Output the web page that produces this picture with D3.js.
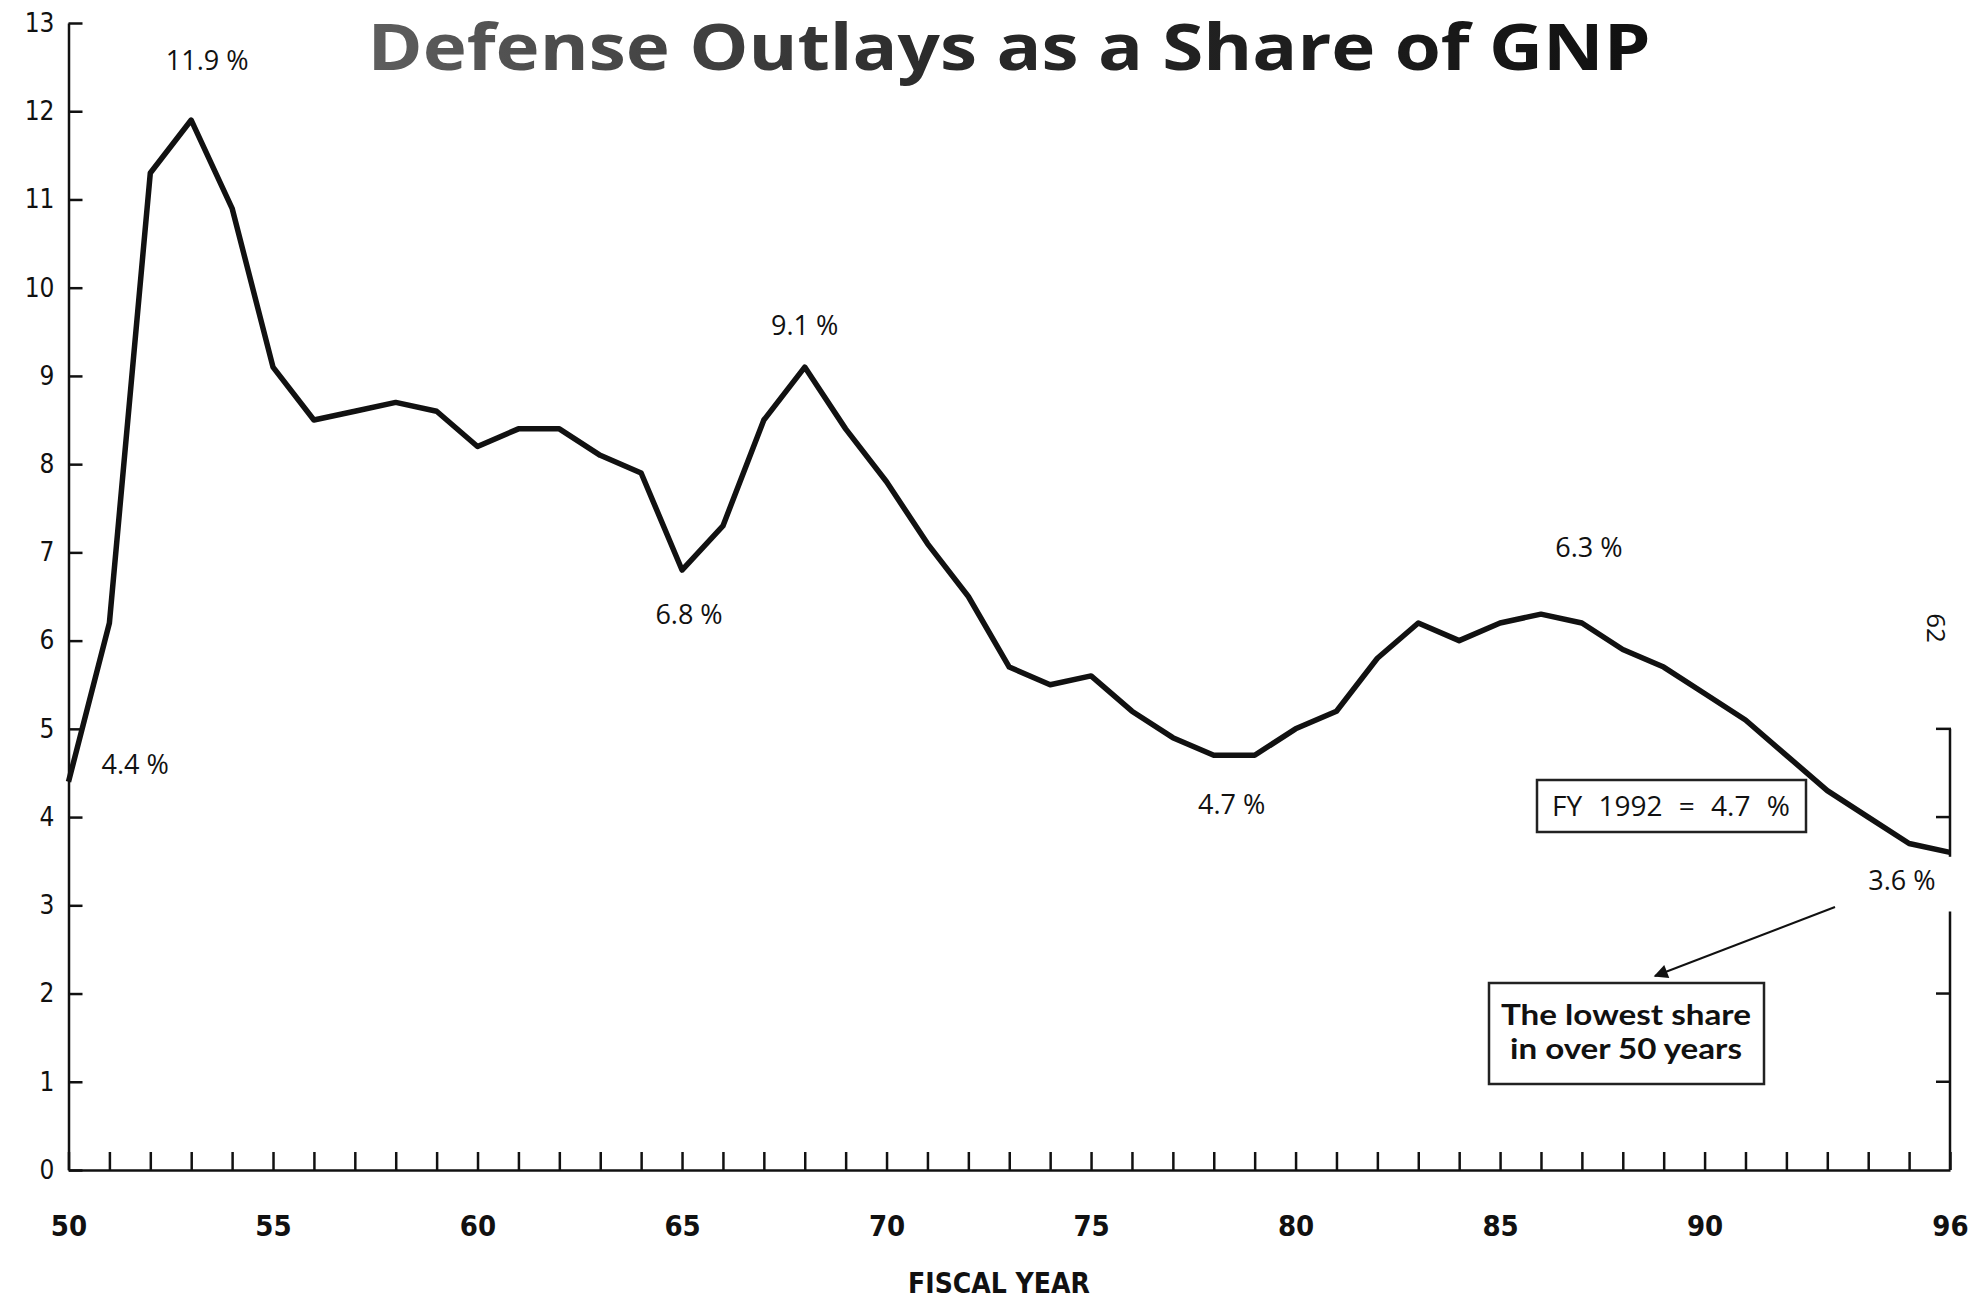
<!DOCTYPE html>
<html>
<head>
<meta charset="utf-8">
<script src="https://cdn.jsdelivr.net/npm/d3@7"></script>
<style>
  body { margin: 0; background: #fff; }
  svg { display: block; }
  .tick text { font-family: "Liberation Sans Narrow", "DejaVu Sans Condensed", sans-serif; fill: #111; }
</style>
</head>
<body>
<svg id="chart"></svg>
<script>
// fiscal years (two digit) and defense outlays as % of GNP
var years = [50,51,52,53,54,55,56,57,58,59,60,61,62,63,64,65,66,67,68,69,70,71,72,73,74,75,76,77,78,79,80,81,82,83,84,85,86,87,88,89,90,91,92,93,94,95,96]
var share = [4.4,6.2,11.3,11.9,10.9,9.1,8.5,8.6,8.7,8.6,8.2,8.4,8.4,8.1,7.9,6.8,7.3,8.5,9.1,8.4,7.8,7.1,6.5,5.7,5.5,5.6,5.2,4.9,4.7,4.7,5.0,5.2,5.8,6.2,6.0,6.2,6.3,6.2,5.9,5.7,5.4,5.1,4.7,4.3,4.0,3.7,3.6]
var xTickLabels = [50,55,60,65,70,75,80,85,90,96]
var yTicks = [0,1,2,3,4,5,6,7,8,9,10,11,12,13]
var rightTicks = [5,4,2,1]

// value callouts
var calloutYears = [53,50,68,65,78,86,96]
var calloutText = ["11.9 %","4.4 %","9.1 %","6.8 %","4.7 %","6.3 %","3.6 %"]

var width = 1988,
    height = 1300

var svg = d3.select("#chart")
    .attr("width", width)
    .attr("height", height)

var x = d3.scaleLinear().domain([50, 96]).range([68.5, 1950])
var y = d3.scaleLinear().domain([0, 13]).range([1170, 23])

// title with a gray to black fade, like the print
var grad = svg.append("defs").append("linearGradient")
    .attr("id", "titleFade")
    .attr("gradientUnits", "userSpaceOnUse")
    .attr("x1", 368).attr("x2", 1651).attr("y1", 0).attr("y2", 0)
grad.append("stop").attr("offset", "0%").attr("stop-color", "#5e5e5e")
grad.append("stop").attr("offset", "45%").attr("stop-color", "#2a2a2a")
grad.append("stop").attr("offset", "100%").attr("stop-color", "#111")

svg.append("text")
    .attr("x", 1009)
    .attr("y", 70)
    .attr("text-anchor", "middle")
    .attr("fill", "url(#titleFade)")
    .style("font-family", "'Open Sans', 'Noto Sans', sans-serif")
    .style("font-weight", "bold")
    .style("font-size", "65px")
    .attr("textLength", 1283)
    .attr("lengthAdjust", "spacingAndGlyphs")
    .text("Defense Outlays as a Share of GNP")

// y axis, ticks point into the plot
var yAxis = d3.axisLeft(y)
    .tickValues(yTicks)
    .tickSizeInner(-14)
    .tickSizeOuter(0)
    .tickPadding(14)
var gy = svg.append("g")
    .attr("transform", "translate(" + x(50) + ",0)")
    .call(yAxis)
gy.selectAll("path, line").attr("stroke", "#111").attr("stroke-width", 2.5)
gy.selectAll("text").style("font-size", "26px")

// x axis, one tick each year
var xAxis = d3.axisBottom(x)
    .tickValues(years)
    .tickSizeInner(-18)
    .tickSizeOuter(0)
    .tickPadding(45)
    .tickFormat(function(d){ return xTickLabels.indexOf(d) >= 0 ? d : "" })
var gx = svg.append("g")
    .attr("transform", "translate(0," + y(0) + ")")
    .call(xAxis)
gx.selectAll("path, line").attr("stroke", "#111").attr("stroke-width", 2.5)
gx.selectAll("text")
    .style("font-size", "29px")
    .style("font-weight", "bold")

// broken right hand axis
var rx = x(96)
var segs = [[5, 3.55], [2.93, 0]]
svg.selectAll(".rseg").data(segs).enter()
    .append("line")
    .attr("class", "rseg")
    .attr("x1", rx).attr("x2", rx)
    .attr("y1", function(d){ return y(d[0]) })
    .attr("y2", function(d){ return y(d[1]) })
    .attr("stroke", "#111")
    .attr("stroke-width", 2.5)
svg.selectAll(".rtick").data(rightTicks).enter()
    .append("line")
    .attr("class", "rtick")
    .attr("x1", rx - 14).attr("x2", rx + 1)
    .attr("y1", function(d){ return y(d) })
    .attr("y2", function(d){ return y(d) })
    .attr("stroke", "#111")
    .attr("stroke-width", 2.5)

// the series
var line = d3.line()
    .x(function(d, i){ return x(years[i]) })
    .y(function(d){ return y(d) })
svg.append("path")
    .datum(share)
    .attr("d", line)
    .attr("fill", "none")
    .attr("stroke", "#111")
    .attr("stroke-width", 5.5)
    .attr("stroke-linejoin", "round")

// callout offsets from their points
var offs = [[16,-50,"middle"],[33,-8,"start"],[0,-32,"middle"],[7,54,"middle"],[18,59,"middle"],[48,-57,"middle"],[-48,38,"middle"]]
svg.selectAll(".callout").data(calloutText).enter()
    .append("text")
    .attr("class", "callout")
    .attr("x", function(d, i){ return x(calloutYears[i]) + offs[i][0] })
    .attr("y", function(d, i){ return y(share[years.indexOf(calloutYears[i])]) + offs[i][1] })
    .attr("text-anchor", function(d, i){ return offs[i][2] })
    .style("font-family", "'Open Sans', 'Noto Sans', sans-serif")
    .style("font-size", "27px")
    .attr("fill", "#111")
    .text(function(d){ return d })

// FY 1992 box
svg.append("rect")
    .attr("x", 1537).attr("y", 780)
    .attr("width", 269).attr("height", 52)
    .attr("fill", "#fff")
    .attr("stroke", "#222")
    .attr("stroke-width", 2.5)
svg.append("text")
    .attr("x", 1671).attr("y", 816)
    .attr("text-anchor", "middle")
    .style("font-family", "'Open Sans', 'Noto Sans', sans-serif")
    .style("font-size", "28px")
    .style("word-spacing", "9px")
    .attr("fill", "#111")
    .text("FY 1992 = 4.7 %")

// lowest share note with arrow
svg.append("defs").append("marker")
    .attr("id", "head")
    .attr("viewBox", "0 0 10 10")
    .attr("refX", 9).attr("refY", 5)
    .attr("markerWidth", 9).attr("markerHeight", 7)
    .attr("orient", "auto")
    .append("path")
    .attr("d", "M0,0 L10,5 L0,10 z")
    .attr("fill", "#111")
svg.append("line")
    .attr("x1", 1835).attr("y1", 907)
    .attr("x2", 1655).attr("y2", 976)
    .attr("stroke", "#111")
    .attr("stroke-width", 2)
    .attr("marker-end", "url(#head)")
svg.append("rect")
    .attr("x", 1489).attr("y", 983)
    .attr("width", 275).attr("height", 101)
    .attr("fill", "#fff")
    .attr("stroke", "#222")
    .attr("stroke-width", 2.5)
var noteLen = [250, 232]
svg.selectAll(".note").data(["The lowest share", "in over 50 years"]).enter()
    .append("text")
    .attr("class", "note")
    .attr("x", 1626)
    .attr("y", function(d, i){ return 1025 + i * 34 })
    .attr("text-anchor", "middle")
    .attr("textLength", function(d, i){ return noteLen[i] })
    .attr("lengthAdjust", "spacingAndGlyphs")
    .style("font-family", "Lato, 'Open Sans', sans-serif")
    .style("font-weight", "bold")
    .style("font-size", "28px")
    .attr("fill", "#111")
    .text(function(d){ return d })

// axis title
svg.append("text")
    .attr("x", 999).attr("y", 1293)
    .attr("text-anchor", "middle")
    .style("font-family", "'Liberation Sans Narrow', 'DejaVu Sans Condensed', sans-serif")
    .style("font-weight", "bold")
    .style("font-size", "28px")
    .attr("fill", "#111")
    .text("FISCAL YEAR")

// page number printed sideways
svg.append("text")
    .attr("transform", "translate(1927,628) rotate(90)")
    .attr("text-anchor", "middle")
    .style("font-family", "'Open Sans', 'Noto Sans', sans-serif")
    .style("font-size", "26px")
    .attr("fill", "#111")
    .text("62")
</script>
</body>
</html>
